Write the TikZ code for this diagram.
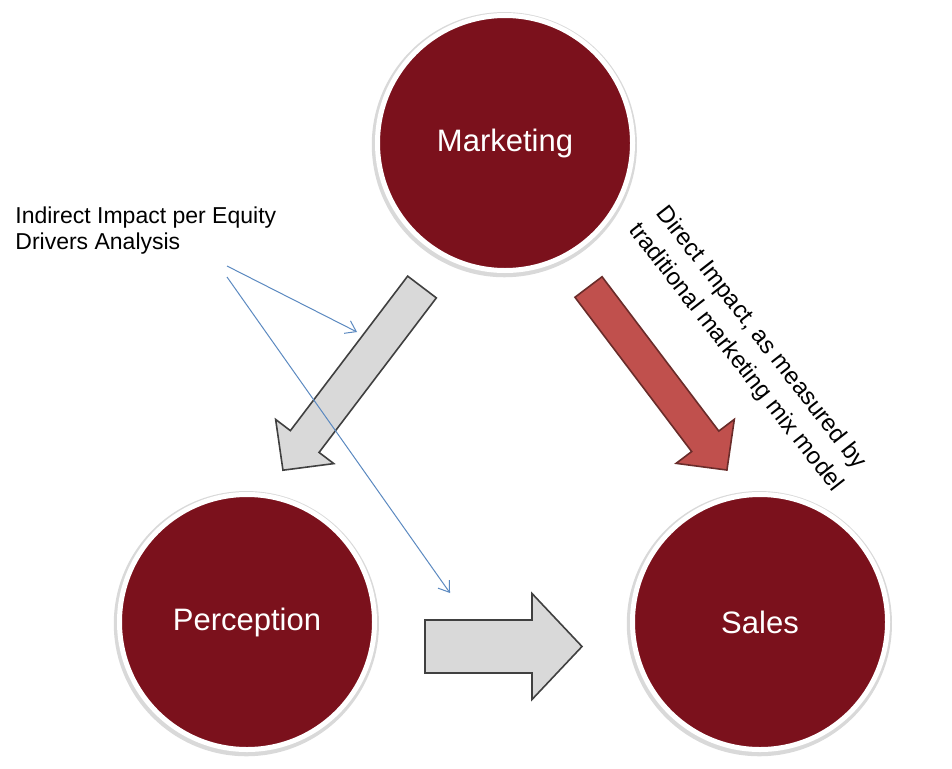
\documentclass[tikz,border=0pt]{standalone}
\usepackage{fontspec}
\setmainfont{Liberation Sans}
\usetikzlibrary{arrows.meta,positioning,shadows}
\definecolor{stagered}{HTML}{7B111C}
\definecolor{blockred}{HTML}{C0504D}
\definecolor{hintblue}{HTML}{5B89C0}

\begin{document}
\begin{tikzpicture}[x=0.5pt,y=0.5pt,node distance=256.5pt,
  stage/.style={circle,fill=stagered,draw=white,line width=2.5pt,
    minimum size=127.5pt,inner sep=0pt,text=white,
    drop shadow={shadow xshift=-0.3pt,shadow yshift=-0.8pt,shadow scale=1.04,opacity=0.3},
    font=\fontsize{15.5}{18}\selectfont},
  block/.style={draw=black!75,line width=0.8pt,fill=black!15},
  redblock/.style={block,draw=blockred!55!black,fill=blockred},
  hint/.style={draw=hintblue,line width=0.5pt,-{Straight Barb[length=5pt,width=7pt]}}]

  \useasboundingbox (0,0) rectangle (952,768);

  \node[stage] (marketing) at (505,625) {Marketing};
  \node[stage] (perception) at (247,146) {Perception};
  \node[stage] (sales) [right of=perception] {Sales};

  % block arrows
  \begin{scope}[shift={(422,481)},rotate=-127.2]
    \draw[block] (0,-18) -- (194,-18) -- (194,-36.5) -- (230,0)
      -- (194,36.5) -- (194,18) -- (0,18) -- cycle;
  \end{scope}
  \begin{scope}[shift={(588.5,481)},rotate=-52.9]
    \draw[redblock] (0,-17) -- (193.5,-17) -- (193.5,-36.5) -- (229.5,0)
      -- (193.5,36.5) -- (193.5,17) -- (0,17) -- cycle;
  \end{scope}
  \begin{scope}[shift={(425,121.5)}]
    \draw[block] (0,-26.5) -- (107,-26.5) -- (107,-53) -- (157,0)
      -- (107,53) -- (107,26.5) -- (0,26.5) -- cycle;
  \end{scope}

  % labels
  \node[anchor=north west,align=left,inner sep=0pt,
    font=\fontsize{11.5}{13}\selectfont] (indirect) at (15,562)
    {Indirect Impact per Equity\\Drivers Analysis};
  \node[rotate=-52,align=center,inner sep=0pt,
    font=\fontsize{12}{16}\selectfont] (direct) at (748,420)
    {Direct Impact, as measured by\\traditional marketing mix model};

  \coordinate (from1) at (227,502);
  \coordinate (from2) at (227,491);
  \coordinate (tip1) at (357,436);
  \coordinate (tip2) at (450,175);
  \draw[hint] (from1) -- (tip1);
  \draw[hint] (from2) -- (tip2);
\end{tikzpicture}
\end{document}
